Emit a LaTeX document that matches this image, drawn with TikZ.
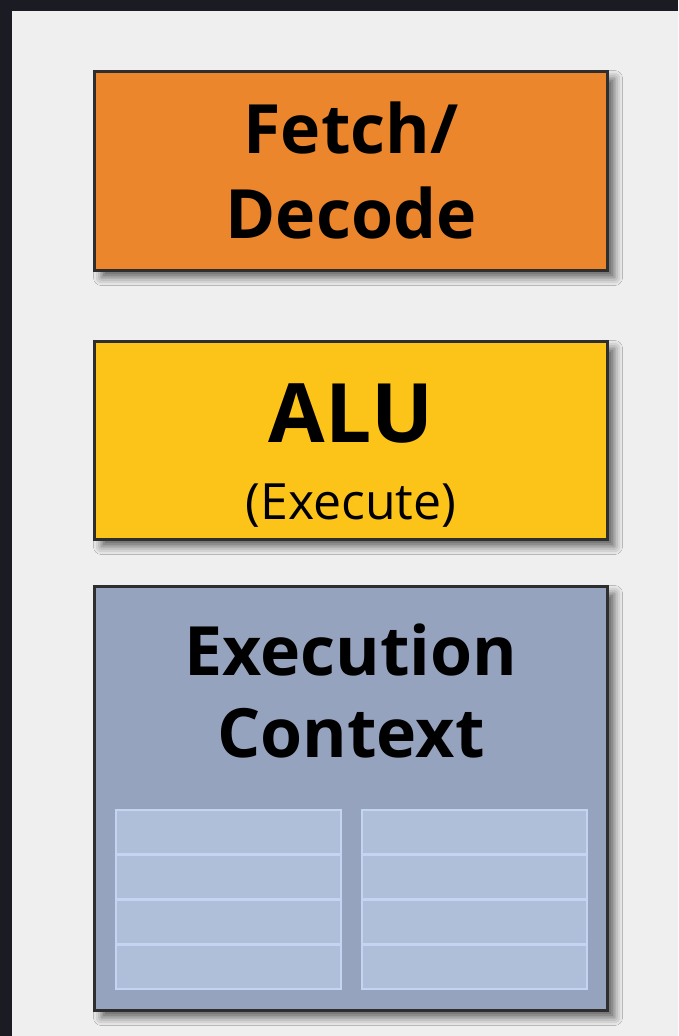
\documentclass[tikz,border=0pt]{standalone}
\usepackage{fontspec}
\setmainfont{Open Sans}
\usetikzlibrary{shadows.blur}
\definecolor{frame}{RGB}{27,27,36}
\definecolor{panel}{RGB}{239,239,239}
\definecolor{edge}{RGB}{46,46,46}
\definecolor{fetchorange}{RGB}{235,134,45}
\definecolor{alugold}{RGB}{252,195,24}
\definecolor{ctxslate}{RGB}{149,163,190}
\definecolor{regfill}{RGB}{175,191,218}
\definecolor{regedge}{RGB}{197,212,242}

\tikzset{
  unitbox/.style={draw=edge,line width=3pt,minimum width=513pt,inner sep=0pt,outer sep=0pt,
    blur shadow={shadow xshift=7pt,shadow yshift=-7pt,shadow blur radius=8pt,shadow opacity=60}},
  regcell/.style={draw=regedge,fill=regfill,line width=2pt,minimum width=225pt,minimum height=44pt,inner sep=0pt},
  bigtext/.style={font=\fontsize{68}{85}\selectfont\bfseries,anchor=base}
}

\begin{document}
\begin{tikzpicture}[x=1pt,y=-1pt]
  \useasboundingbox (0,0) rectangle (678,1036);
  \fill[frame] (0,0) rectangle (678,1036);
  \fill[panel] (12,11) rectangle (678,1036);

  % the three units
  \node[unitbox,fill=fetchorange,minimum height=199pt] (fetch) at (351,171) {};
  \node[unitbox,fill=alugold,minimum height=198pt] (alu) at (351,440.5) {};
  \node[unitbox,fill=ctxslate,minimum height=424pt] (ctx) at (351,798.5) {};

  \node[bigtext] (fetchtxt) at (351,153) {Fetch/};
  \node[bigtext] (decodetxt) at (351,238) {Decode};
  \node[font=\fontsize{82}{90}\selectfont\bfseries,anchor=base] (alutxt) at (351,442) {ALU};
  \node[font=\fontsize{50}{60}\selectfont,anchor=base] (exectxt) at (351,519) {(Execute)};
  \node[bigtext] (ctxtxt) at (351,675) {Execution};
  \node[bigtext] (contexttxt) at (351,757) {Context};

  % register cells
  \foreach \c/\x in {1/228, 2/474.5}
    \foreach \r in {1,...,4}
      \node[regcell] (reg-\c-\r) at (\x,{809+22.6+(\r-1)*45.2}) {};
\end{tikzpicture}
\end{document}
